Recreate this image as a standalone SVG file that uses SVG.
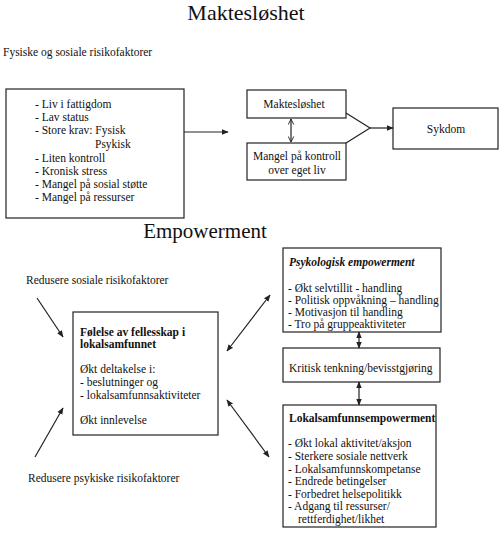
<svg xmlns="http://www.w3.org/2000/svg" width="500" height="552" viewBox="0 0 500 552">
<style>
text{font-family:"Liberation Serif","Times New Roman",serif;fill:#111;font-size:11.5px}
.t{font-size:21px}
.b{font-weight:bold}
.bi{font-weight:bold;font-style:italic}
.m{text-anchor:middle}
rect{fill:#fff;stroke:#222;stroke-width:1.2}
line,polyline{stroke:#222;stroke-width:1.2;fill:none}
</style>
<defs>
<marker id="ah" viewBox="0 0 10 10" refX="9" refY="5" markerWidth="7" markerHeight="7" orient="auto-start-reverse" markerUnits="userSpaceOnUse">
<path d="M0,1 L10,5 L0,9 z" fill="#222"/>
</marker>
<marker id="oh" viewBox="0 0 10 10" refX="9" refY="5" markerWidth="7" markerHeight="7" orient="auto-start-reverse" markerUnits="userSpaceOnUse">
<path d="M1,1 L9,5 L1,9" fill="none" stroke="#222" stroke-width="1.3"/>
</marker>
</defs>

<text class="t m" x="246" y="20" style="font-size:22px">Maktesløshet</text>
<text x="3" y="56">Fysiske og sosiale risikofaktorer</text>
<text class="t m" x="205" y="238">Empowerment</text>

<g id="risiko">
<rect x="6" y="89" width="178" height="129"/>
<text x="35" y="108">- Liv i fattigdom</text>
<text x="35" y="121">- Lav status</text>
<text x="35" y="134">- Store krav: Fysisk</text>
<text x="95" y="148">Psykisk</text>
<text x="35" y="162">- Liten kontroll</text>
<text x="35" y="175">- Kronisk stress</text>
<text x="35" y="188">- Mangel på sosial støtte</text>
<text x="35" y="201">- Mangel på ressurser</text>
</g>

<g id="maktesloshet">
<rect x="247" y="90" width="99" height="28"/>
<text class="m" x="294" y="108">Maktesløshet</text>
</g>

<g id="mangel">
<rect x="247" y="143" width="99" height="37"/>
<text class="m" x="297" y="160">Mangel på kontroll</text>
<text class="m" x="297" y="174">over eget liv</text>
</g>

<g id="sykdom">
<rect x="393" y="108" width="105" height="41"/>
<text class="m" x="446" y="133">Sykdom</text>
</g>

<g id="sosiale-label">
<text x="26" y="284">Redusere sosiale risikofaktorer</text>
</g>
<g id="psykiske-label">
<text x="28" y="482">Redusere psykiske risikofaktorer</text>
</g>

<g id="fellesskap">
<rect x="73" y="312" width="145" height="123"/>
<text class="b" x="80" y="336">Følelse av fellesskap i</text>
<text class="b" x="80" y="348">lokalsamfunnet</text>
<text x="80" y="373">Økt deltakelse i:</text>
<text x="80" y="386">- beslutninger og</text>
<text x="80" y="399">- lokalsamfunnsaktiviteter</text>
<text x="80" y="424">Økt innlevelse</text>
</g>

<g id="psykologisk">
<rect x="283" y="248" width="158" height="84"/>
<text class="bi" x="289" y="266">Psykologisk empowerment</text>
<text x="288" y="292">- Økt selvtillit - handling</text>
<text x="288" y="304">- Politisk oppvåkning – handling</text>
<text x="288" y="316">- Motivasjon til handling</text>
<text x="288" y="328">- Tro på gruppeaktiviteter</text>
</g>

<g id="kritisk">
<rect x="283" y="348" width="157" height="34"/>
<text x="289" y="372">Kritisk tenkning/bevisstgjøring</text>
</g>

<g id="lokalsamfunn">
<rect x="283" y="405" width="153" height="122"/>
<text class="b" x="289" y="422">Lokalsamfunnsempowerment</text>
<text x="288" y="447">- Økt lokal aktivitet/aksjon</text>
<text x="288" y="460">- Sterkere sosiale nettverk</text>
<text x="288" y="473">- Lokalsamfunnskompetanse</text>
<text x="288" y="485">- Endrede betingelser</text>
<text x="288" y="498">- Forbedret helsepolitikk</text>
<text x="288" y="510">- Adgang til ressurser/</text>
<text x="298" y="523">rettferdighet/likhet</text>
</g>

<g id="connectors">
<line x1="184" y1="132" x2="228" y2="132" marker-end="url(#ah)"/>
<line x1="291" y1="119" x2="291" y2="142" marker-start="url(#oh)" marker-end="url(#oh)"/>
<polyline points="346,113 370,128 346,143"/>
<line x1="370" y1="128" x2="393" y2="128" marker-end="url(#ah)"/>
<line x1="37" y1="298" x2="63" y2="337" marker-end="url(#ah)"/>
<line x1="35" y1="457" x2="63" y2="408" marker-end="url(#ah)"/>
<line x1="227" y1="351" x2="270" y2="295" marker-start="url(#ah)" marker-end="url(#ah)"/>
<line x1="227" y1="400" x2="269" y2="457" marker-start="url(#ah)" marker-end="url(#ah)"/>
<line x1="359" y1="332" x2="359" y2="348" marker-start="url(#ah)" marker-end="url(#ah)"/>
<line x1="359" y1="382" x2="359" y2="405" marker-start="url(#ah)" marker-end="url(#ah)"/>
</g>
</svg>
